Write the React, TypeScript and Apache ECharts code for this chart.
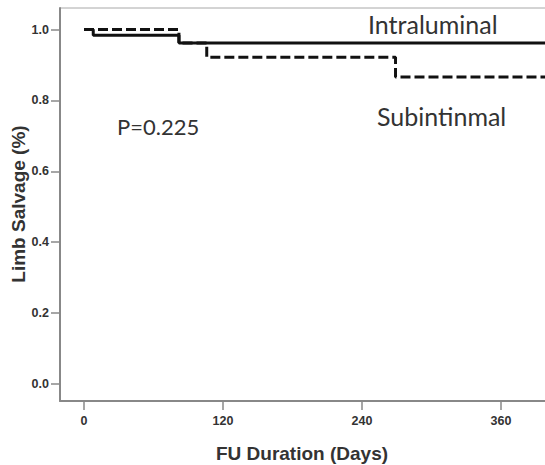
import React, { useEffect, useRef } from "react";
import * as echarts from "echarts";

const intraTimes = [0, 8, 82, 411];
const intraSurv = [1.0, 0.984, 0.962, 0.962];
const subTimes = [0, 82, 106, 269, 411];
const subSurv = [1.0, 0.962, 0.922, 0.866, 0.866];
const xTicks = [0, 120, 240, 360];
const yTicks = [0, 0.2, 0.4, 0.6, 0.8, 1.0];

export default function App() {
  const ref = useRef<HTMLDivElement>(null);
  useEffect(() => {
    if (!ref.current) return;
    const chart = echarts.init(ref.current, null, { renderer: "svg" });
    const tickLabel = { color: "#333", fontFamily: "Liberation Sans, Arial, sans-serif", fontWeight: "bold", fontSize: 12.5 };
    const titleFont = { fontFamily: "Liberation Sans, Arial, sans-serif", fontWeight: "bold", fontSize: 19, fill: "#333" };
    const noteFont = { fontFamily: "Lato, sans-serif", fill: "#333" };
    chart.setOption({
      animation: false,
      grid: {
        left: 60, top: 8, width: 500, height: 393,
        show: true, borderColor: "#a8a8a8", borderWidth: 1, backgroundColor: "#fff",
        containLabel: false, outerBoundsMode: "none",
      },
      xAxis: {
        type: "value",
        min: -20.7,
        max: 411,
        axisLine: { show: true, onZero: false, lineStyle: { color: "#888", width: 2 } },
        axisTick: { show: true, length: 9, customValues: xTicks, lineStyle: { color: "#888", width: 1.5 } },
        axisLabel: { ...tickLabel, customValues: xTicks, margin: 13 },
        splitLine: { show: false },
      },
      yAxis: {
        type: "value",
        min: -0.048,
        max: 1.061,
        axisLine: { show: true, onZero: false, lineStyle: { color: "#888", width: 2 } },
        axisTick: { show: true, length: 9, customValues: yTicks, lineStyle: { color: "#888", width: 1.5 } },
        axisLabel: { ...tickLabel, customValues: yTicks, margin: 11, formatter: (v: number) => v.toFixed(1) },
        splitLine: { show: false },
      },
      series: [
        {
          type: "line",
          step: "end",
          data: intraTimes.map((t, i) => [t, intraSurv[i]]),
          showSymbol: false,
          lineStyle: { color: "#111", width: 3 },
        },
        {
          type: "line",
          step: "end",
          data: subTimes.map((t, i) => [t, subSurv[i]]),
          showSymbol: false,
          lineStyle: { color: "#111", width: 3, type: [10, 4] },
        },
      ],
      graphic: [
        { type: "text", x: 368, y: 24, style: { ...noteFont, text: "Intraluminal", fontSize: 25, textVerticalAlign: "middle" } },
        { type: "text", x: 377, y: 116, style: { ...noteFont, text: "Subintinmal", fontSize: 25, textVerticalAlign: "middle" } },
        { type: "text", x: 117, y: 126, style: { ...noteFont, text: "P=0.225", fontSize: 22, textVerticalAlign: "middle" } },
        { type: "text", x: 302, y: 453, style: { ...titleFont, text: "FU Duration (Days)", textAlign: "center", textVerticalAlign: "middle" } },
        { type: "text", x: 18.5, y: 204, rotation: Math.PI / 2, style: { ...titleFont, text: "Limb Salvage (%)", textAlign: "center", textVerticalAlign: "middle" } },
      ],
    });
    return () => chart.dispose();
  }, []);
  return <div ref={ref} style={{ position: "fixed", left: 0, top: 0, width: 545, height: 465, background: "#fff" }} />;
}
